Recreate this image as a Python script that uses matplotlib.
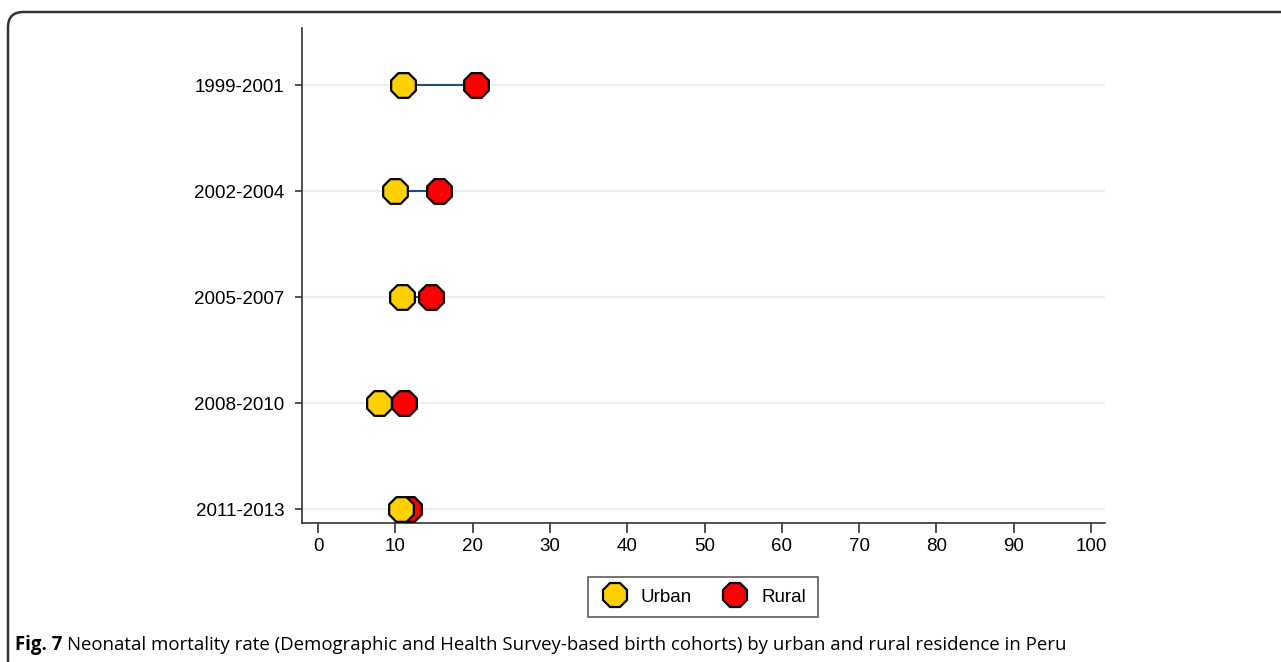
import matplotlib.pyplot as plt
from matplotlib.patches import FancyBboxPatch
from matplotlib.lines import Line2D

# Birth cohorts and neonatal mortality rates (per 1000)
cohorts = ["1999-2001", "2002-2004", "2005-2007", "2008-2010", "2011-2013"]
urban = [11.0, 10.0, 10.9, 7.9, 10.7]
rural = [20.4, 15.7, 14.6, 11.1, 11.8]
xticks = list(range(0, 101, 10))

plt.rcParams["font.family"] = ["Liberation Sans", "DejaVu Sans"]

fig = plt.figure(figsize=(12.81, 6.62), dpi=100)
ax = fig.add_axes([0.2358, 0.21, 0.6268, 0.748])

ypos = list(range(len(cohorts)))

for y, u, r in zip(ypos, urban, rural):
    ax.axhline(y, color="#e8f0f2", lw=1.5, zorder=0)
    ax.plot([u, r], [y, y], color="#1f4e79", lw=1.5, zorder=1)

ax.scatter(rural, ypos, marker="8", s=370, c="#ff0000", edgecolors="black",
           linewidths=1.6, zorder=3)
ax.scatter(urban, ypos, marker="8", s=370, c="#ffd000", edgecolors="black",
           linewidths=1.6, zorder=4)

ax.set_yticks(ypos)
ax.set_yticklabels(cohorts, fontsize=13.5)
ax.set_xticks(xticks)
ax.set_xticklabels([str(t) for t in xticks], fontsize=13.5)
ax.set_xlim(-2.07, 101.8)
ax.set_ylim(4.13, -0.54)

for s in ["top", "right"]:
    ax.spines[s].set_visible(False)
for s in ["left", "bottom"]:
    ax.spines[s].set_color("#333333")
    ax.spines[s].set_linewidth(1.2)
ax.tick_params(axis="x", length=7, width=1.2, color="#333333", pad=4)
ax.tick_params(axis="y", length=5, width=1.2, color="#333333", pad=8)

handles = [
    Line2D([], [], ls="none", marker="8", ms=18, mfc="#ffd000", mec="black", mew=1.6),
    Line2D([], [], ls="none", marker="8", ms=18, mfc="#ff0000", mec="black", mew=1.6),
]
leg = fig.legend(handles, ["Urban", "Rural"], loc="center", ncol=2,
                 bbox_to_anchor=(703 / 1281, 1 - 597 / 662), fontsize=13.5,
                 frameon=True, fancybox=False, edgecolor="#333333",
                 handletextpad=0.6, columnspacing=1.5, borderpad=0.6,
                 handlelength=1.6)
leg.get_frame().set_linewidth(1.2)

# rounded frame around the figure
frame = FancyBboxPatch((8 / 1281, -0.05), 1.2, 1 - 12 / 662 + 0.05,
                       boxstyle="round,pad=0,rounding_size=0.012",
                       transform=fig.transFigure, fill=False,
                       edgecolor="#333333", lw=1.8, mutation_aspect=1281 / 662)
fig.patches.append(frame)

cap_y = 1 - 645 / 662
t1 = fig.text(15 / 1281, cap_y, "Fig. 7", fontsize=13.4, fontweight="bold",
              family=["Open Sans", "DejaVu Sans"], va="center")
fig.canvas.draw()
bb = t1.get_window_extent()
fig.text(bb.x1 / 1281 + 5 / 1281, cap_y,
         "Neonatal mortality rate (Demographic and Health Survey-based birth cohorts) "
         "by urban and rural residence in Peru",
         fontsize=13.4, family=["Open Sans", "DejaVu Sans"], va="center")

fig.savefig("out.png", dpi=100)
